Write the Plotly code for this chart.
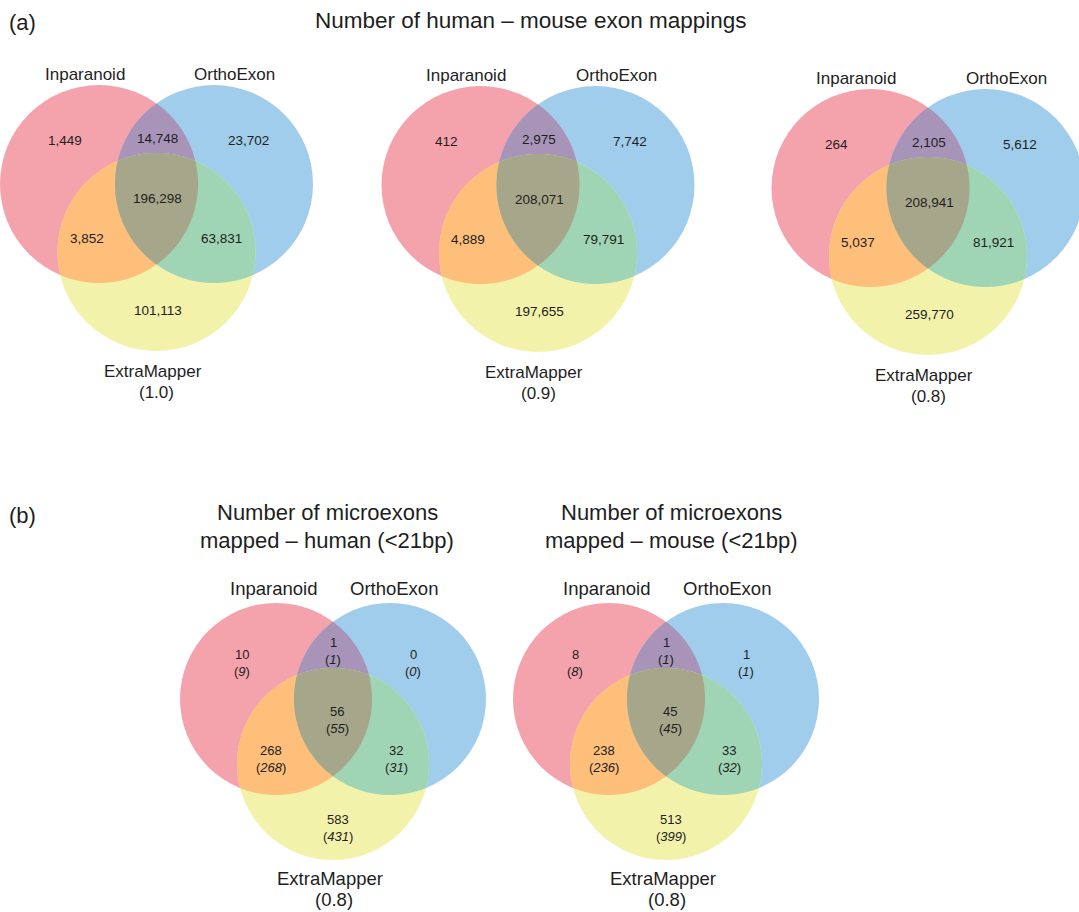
import numpy as np
import plotly.graph_objects as go

# ---------------- data ----------------
set_names = ["Inparanoid", "OrthoExon", "ExtraMapper"]
# region order: [Inparanoid only, Inp&Ortho, OrthoExon only, all three, Inp&Extra, Ortho&Extra, ExtraMapper only]
top_thresholds = ["(1.0)", "(0.9)", "(0.8)"]
top_v1 = [1449, 14748, 23702, 196298, 3852, 63831, 101113]
top_v2 = [412, 2975, 7742, 208071, 4889, 79791, 197655]
top_v3 = [264, 2105, 5612, 208941, 5037, 81921, 259770]
human_main = [10, 1, 0, 56, 268, 32, 583]
human_ital = [9, 1, 0, 55, 268, 31, 431]
mouse_main = [8, 1, 1, 45, 238, 33, 513]
mouse_ital = [8, 1, 1, 45, 236, 32, 399]
bottom_thresholds = ["(0.8)", "(0.8)"]
title_a = "Number of human \u2013 mouse exon mappings"
title_b_human = ["Number of microexons", "mapped \u2013 human (<21bp)"]
title_b_mouse = ["Number of microexons", "mapped \u2013 mouse (<21bp)"]

# ---------------- style ----------------
FONT = "Liberation Sans, Arial, sans-serif"
TXT = "#1e1e1e"
C_R, C_B, C_Y = "#F4A3AC", "#A0CDEB", "#F3F2AA"
C_RB, C_RY, C_BY, C_RBY = "#A894B8", "#FDBF7A", "#9FD5B4", "#A6A68A"

W, H = 1079, 912
shapes = []
annotations = []


def circ_pts(c, r, n=1440):
    t = np.linspace(0, 2 * np.pi, n, endpoint=False)
    return np.column_stack([c[0] + r * np.cos(t), c[1] + r * np.sin(t)])


def inside(p, c, r):
    return (p[:, 0] - c[0]) ** 2 + (p[:, 1] - c[1]) ** 2 <= r * r + 1e-9


def intersect_path(circles):
    pts = []
    for i, (c, r) in enumerate(circles):
        p = circ_pts(c, r)
        m = np.ones(len(p), bool)
        for j, (c2, r2) in enumerate(circles):
            if j != i:
                m &= inside(p, c2, r2)
        pts.append(p[m])
    pts = np.vstack(pts)
    ctr = pts.mean(axis=0)
    ang = np.arctan2(pts[:, 1] - ctr[1], pts[:, 0] - ctr[0])
    pts = pts[np.argsort(ang)]
    return "M " + " L ".join(f"{x:.2f},{y:.2f}" for x, y in pts) + " Z"


def add_text(x, y, text, size=13, **kw):
    annotations.append(dict(x=x, y=y, xref="x", yref="y", text=text, showarrow=False,
                            xanchor="center", yanchor="middle",
                            font=dict(family=FONT, size=size, color=TXT), **kw))


def venn(cx, cy, r, cR, cB, cY):
    cr, cb, cyl = (cx + cR[0], cy + cR[1]), (cx + cB[0], cy + cB[1]), (cx + cY[0], cy + cY[1])
    for c, col in [(cr, C_R), (cb, C_B), (cyl, C_Y)]:
        shapes.append(dict(type="circle", xref="x", yref="y", x0=c[0] - r, x1=c[0] + r,
                           y0=c[1] - r, y1=c[1] + r, fillcolor=col, line=dict(width=0)))
    for pair, col in [((cr, cb), C_RB), ((cr, cyl), C_RY), ((cb, cyl), C_BY)]:
        shapes.append(dict(type="path", xref="x", yref="y",
                           path=intersect_path([(pair[0], r), (pair[1], r)]),
                           fillcolor=col, line=dict(width=0)))
    shapes.append(dict(type="path", xref="x", yref="y",
                       path=intersect_path([(cr, r), (cb, r), (cyl, r)]),
                       fillcolor=C_RBY, line=dict(width=0)))


# ---------------- panel (a) ----------------
add_text(22, 22, "(a)", size=22)
add_text(531, 20, title_a, size=22.5)
top_centers = [(156.5, 184), (538, 185), (928, 188)]
top_vals = [top_v1, top_v2, top_v3]
offs_top = [(-92, -44), (1, -46), (92, -44), (1, 14), (-70, 54), (65, 54), (1, 126)]
for (cx, cy), vals, thr in zip(top_centers, top_vals, top_thresholds):
    venn(cx, cy, 99, (-57.5, 0), (57.5, 0), (0, 68))
    add_text(cx - 72, cy - 110, set_names[0], size=17)
    add_text(cx + 78, cy - 110, set_names[1], size=17)
    for (ox, oy), v in zip(offs_top, vals):
        add_text(cx + ox, cy + oy, f"{v:,}", size=13.5)
    add_text(cx - 4, cy + 187, set_names[2], size=17)
    add_text(cx, cy + 208, thr, size=17)

# ---------------- panel (b) ----------------
add_text(22, 515, "(b)", size=22)
bot_centers = [(333, 699), (666, 699)]
bot_main = [human_main, mouse_main]
bot_ital = [human_ital, mouse_ital]
bot_titles = [title_b_human, title_b_mouse]
bot_title_x = [327, 671]
offs_bot = [(-91, -45), (0, -57), (80, -45), (4, 12), (-62, 51), (63, 51), (5, 120)]
for (cx, cy), mv, iv, tt, tx, thr in zip(bot_centers, bot_main, bot_ital, bot_titles,
                                         bot_title_x, bottom_thresholds):
    venn(cx, cy, 96, (-57, 0), (57, 0), (0, 65))
    add_text(tx, 512, tt[0], size=22)
    add_text(tx, 540, tt[1], size=22)
    add_text(cx - 60, cy - 111, set_names[0], size=18.5)
    add_text(cx + 61, cy - 111, set_names[1], size=18.5)
    for (ox, oy), a, b in zip(offs_bot, mv, iv):
        add_text(cx + ox, cy + oy, f"{a}", size=13)
        add_text(cx + ox, cy + oy + 17, f"(<i>{b}</i>)", size=13)
    add_text(cx - 3, cy + 179, set_names[2], size=18.5)
    add_text(cx + 1, cy + 200, thr, size=18.5)

fig = go.Figure()
fig.add_trace(go.Scatter(x=[], y=[], mode="markers", showlegend=False, hoverinfo="skip"))
fig.update_layout(
    width=W, height=H, margin=dict(l=0, r=0, t=0, b=0),
    paper_bgcolor="white", plot_bgcolor="white",
    xaxis=dict(range=[0, W], visible=False, fixedrange=True, autorange=False),
    yaxis=dict(range=[H, 0], visible=False, fixedrange=True, autorange=False),
    shapes=shapes, annotations=annotations, showlegend=False,
)
fig.write_html("out.html")
